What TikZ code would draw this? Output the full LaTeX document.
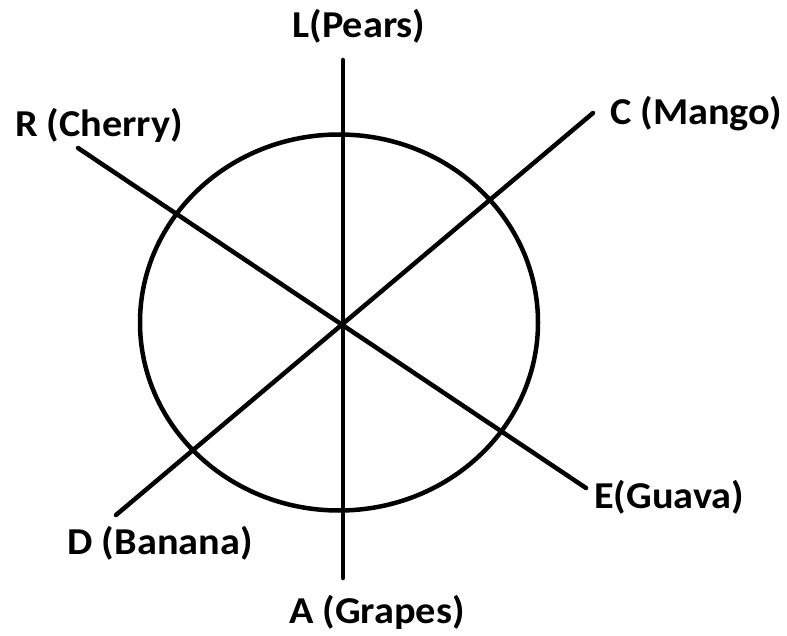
\documentclass[tikz,border=0pt]{standalone}
\usepackage{graphicx}
\usepackage{fontspec}
\setmainfont{Carlito}
\newcommand{\wtxt}[1]{\scalebox{1.06}[1]{#1}}
\begin{document}
\begin{tikzpicture}[x=1pt,y=-1pt,
  stroke/.style={line width=4.5pt, line cap=round},
  lbl/.style={font=\bfseries\fontsize{38}{40}\selectfont, inner sep=0pt}]
\useasboundingbox (0,0) rectangle (787,636);
\coordinate (O) at (342,324);
\draw[stroke] (339,322.5) ellipse [x radius=199, y radius=188];
\coordinate (Lt) at (343,60);
\coordinate (Ab) at (343,578);
\coordinate (Rt) at (78,148);
\coordinate (Eb) at (586,488);
\coordinate (Ct) at (593,113);
\coordinate (Db) at (116,515);
\draw[stroke] (Lt) -- (Ab);
\draw[stroke] (Rt) -- (Eb);
\draw[stroke] (Ct) -- (Db);
\node[lbl] (L) at (359,26) {\wtxt{L(Pears)}};
\node[lbl] (R) at (99,125) {\wtxt{R (Cherry)}};
\node[lbl] (C) at (696,114) {\wtxt{C (Mango)}};
\node[lbl] (E) at (669,497) {\wtxt{E(Guava)}};
\node[lbl] (D) at (160,543) {\wtxt{D (Banana)}};
\node[lbl] (A) at (377,612) {\wtxt{A (Grapes)}};
\end{tikzpicture}
\end{document}
